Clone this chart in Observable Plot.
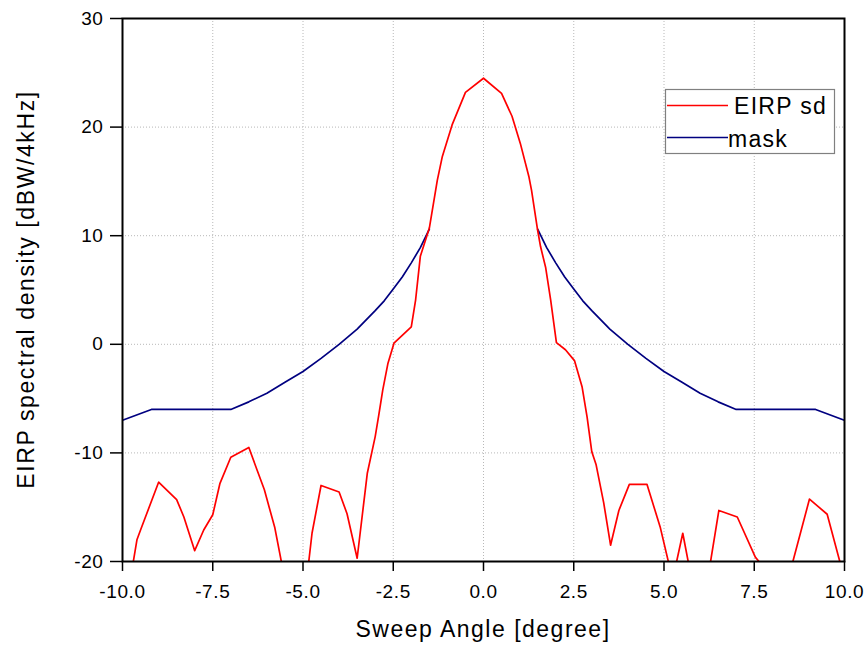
<!DOCTYPE html>
<html>
<head>
<meta charset="utf-8">
<script src="https://cdn.jsdelivr.net/npm/d3@7"></script>
<script src="https://cdn.jsdelivr.net/npm/@observablehq/plot@0.6"></script>
<style>
  body { margin: 0; background: #fff; }
  #chart { width: 866px; height: 647px; }
</style>
</head>
<body>
<div id="chart"></div>
<script>
// ---- data ----
const seriesNames = ["EIRP sd", "mask"];
const seriesColors = ["#ff0000", "#000080"];

const eirpAngle = [-10, -9.7, -9.6, -9.5, -9.0, -8.5, -8.3, -8.0, -7.75, -7.5, -7.3, -7.0, -6.5, -6.27, -6.07, -5.78, -5.6, -5.2, -4.84, -4.75, -4.5, -4.0, -3.78, -3.5, -3.22, -3.0, -2.9, -2.79, -2.65, -2.48, -2.0, -1.88, -1.75, -1.5, -1.28, -1.14, -0.87, -0.5, 0, 0.5, 0.79, 1.02, 1.26, 1.33, 1.5, 1.58, 1.72, 1.86, 2.02, 2.27, 2.52, 2.73, 2.87, 3.0, 3.12, 3.33, 3.52, 3.75, 4.04, 4.53, 4.9, 5.12, 5.25, 5.35, 5.52, 5.67, 6.0, 6.29, 6.52, 7.03, 7.53, 7.63, 8.0, 8.57, 9.03, 9.52, 9.87, 10];
const eirpValue = [-23, -20, -18.0, -17.1, -12.7, -14.3, -15.9, -19.0, -17.1, -15.7, -12.8, -10.4, -9.5, -11.6, -13.4, -16.9, -20, -23, -20, -17.4, -13.0, -13.6, -15.6, -19.7, -11.9, -8.5, -6.5, -4.2, -1.8, 0.1, 1.6, 4.1, 8.1, 10.7, 15.1, 17.3, 20.2, 23.2, 24.5, 23.1, 21.0, 18.5, 15.4, 14.2, 10.5, 9.0, 7.1, 4.1, 0.15, -0.5, -1.5, -3.9, -6.7, -9.9, -11.1, -14.6, -18.5, -15.3, -12.9, -12.9, -16.9, -20, -21, -20, -17.4, -20, -23, -20, -15.3, -15.9, -19.6, -20, -23, -20, -14.25, -15.65, -20, -23];

const maskAngle = [-10, -9.2, -7, -6.5, -6, -5.5, -5, -4.5, -4, -3.5, -3, -2.75, -2.5, -2.25, -2, -1.75, -1.5, 0, 1.5, 1.75, 2, 2.25, 2.5, 2.75, 3, 3.5, 4, 4.5, 5, 5.5, 6, 6.5, 7, 9.2, 10];
const maskValue = [-7.0, -6.0, -6.0, -5.3, -4.5, -3.5, -2.5, -1.3, 0.0, 1.4, 3.1, 4.0, 5.1, 6.2, 7.5, 8.9, 10.6, null, 10.6, 8.9, 7.5, 6.2, 5.1, 4.0, 3.1, 1.4, 0.0, -1.3, -2.5, -3.5, -4.5, -5.3, -6.0, -6.0, -7.0];

const xTicks = [-10, -7.5, -5, -2.5, 0, 2.5, 5, 7.5, 10];
const yTicks = [-20, -10, 0, 10, 20, 30];
const xTitle = "Sweep Angle [degree]";
const yTitle = "EIRP spectral density [dBW/4kHz]";

// ---- build tables ----
const eirp = eirpAngle.map((a, i) => ({angle: a, value: eirpValue[i]}));
const mask = maskAngle.map((a, i) => ({angle: a, value: maskValue[i]}));

const W = 866, H = 647;
const mL = 122, mR = 22, mT = 18, mB = 86;
const font = "'Liberation Sans', Arial, Helvetica, sans-serif";

const plot = Plot.plot({
  width: W, height: H,
  marginLeft: mL, marginRight: mR, marginTop: mT, marginBottom: mB,
  style: {fontFamily: font, fontSize: "19px", background: "#fff", color: "#000", letterSpacing: "0.6px"},
  x: {domain: [-10, 10]},
  y: {domain: [-20, 30]},
  marks: [
    Plot.gridX(xTicks, {stroke: "#b8b8b8", strokeOpacity: 1, strokeDasharray: "1,2", strokeWidth: 1}),
    Plot.gridY(yTicks, {stroke: "#b8b8b8", strokeOpacity: 1, strokeDasharray: "1,2", strokeWidth: 1}),
    Plot.line(mask, {x: "angle", y: "value", stroke: seriesColors[1], strokeWidth: 1.7, clip: true}),
    Plot.line(eirp, {x: "angle", y: "value", stroke: seriesColors[0], strokeWidth: 1.7, clip: true}),
    Plot.axisX(xTicks, {tickSize: 10, tickPadding: 13, tickFormat: d => d.toFixed(1), strokeWidth: 1.5, label: null, fontSize: 19}),
    Plot.axisY(yTicks, {tickSize: 12, tickPadding: 7, tickFormat: d => String(d), strokeWidth: 1.5, label: null, fontSize: 19}),
    Plot.frame({stroke: "#000", strokeWidth: 2})
  ]
});

document.getElementById("chart").appendChild(plot);

// ---- axis titles and legend ----
const svg = d3.select(plot);
const cx = mL + (W - mL - mR) / 2;
const cy = mT + (H - mT - mB) / 2;

svg.append("text")
  .attr("x", cx).attr("y", 637)
  .attr("text-anchor", "middle")
  .style("font-family", font).style("font-size", "23px").style("letter-spacing", "1.5px")
  .attr("fill", "#000")
  .text(xTitle);

svg.append("text")
  .attr("transform", `translate(34,${cy}) rotate(-90)`)
  .attr("text-anchor", "middle")
  .style("font-family", font).style("font-size", "23px").style("letter-spacing", "1.6px")
  .attr("fill", "#000")
  .text(yTitle);

const lg = svg.append("g");
lg.append("rect")
  .attr("x", 665.5).attr("y", 89.5).attr("width", 169).attr("height", 64)
  .attr("fill", "#fff").attr("stroke", "#808080").attr("stroke-width", 1.2);
const rows = [
  {y: 105.5, tx: 734, ty: 113.5},
  {y: 137.5, tx: 728, ty: 146.5}
];
rows.forEach((r, i) => {
  lg.append("line")
    .attr("x1", 667).attr("x2", 728).attr("y1", r.y).attr("y2", r.y)
    .attr("stroke", seriesColors[i]).attr("stroke-width", 1.7);
  lg.append("text")
    .attr("x", r.tx).attr("y", r.ty)
    .attr("text-anchor", "start")
    .style("text-anchor", "start")
    .style("font-family", font).style("font-size", "23px").style("letter-spacing", "1.3px")
    .attr("fill", "#000")
    .text(seriesNames[i]);
});
</script>
</body>
</html>
